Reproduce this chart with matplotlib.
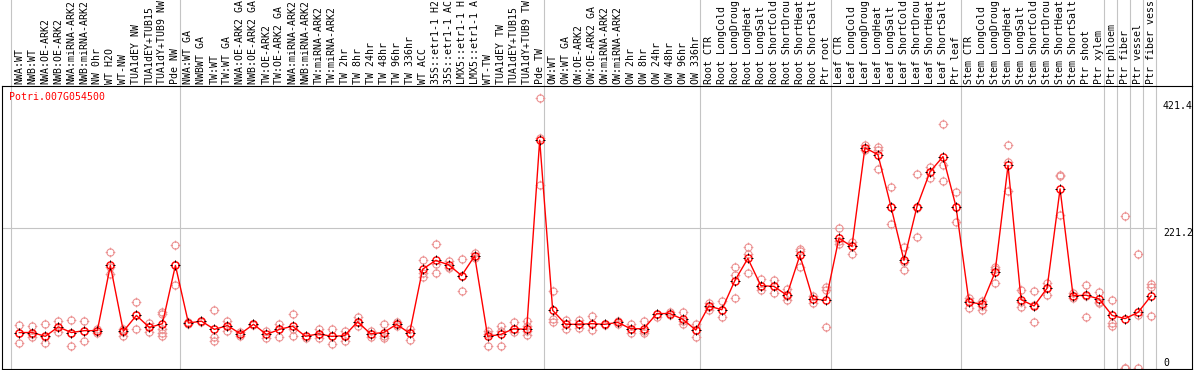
import matplotlib
matplotlib.use("Agg")
import matplotlib.pyplot as plt
from matplotlib.path import Path

GENE = "Potri.007G054500"

# labels as far as they are visible in the original (long ones run off the top)
LABELS = [
    "NWA:WT", "NWB:WT", "NWA:OE-ARK2", "NWB:OE-ARK2", "NWA:miRNA-ARK2",
    "NWB:miRNA-ARK2", "NW 0hr", "WT H2O", "WT-NW", "TUA1dEY NW",
    "TUA1dEY+TUB15", "TUA1dY+TUB9 NW", "Pde NW",
    "NWA:WT GA", "NWBWT GA", "TW:WT", "TW:WT GA", "NWA:OE-ARK2 GA",
    "NWB:OE-ARK2 GA", "TW:OE-ARK2", "TW:OE-ARK2 GA", "NWA:miRNA-ARK2",
    "NWB:miRNA-ARK2", "TW:miRNA-ARK2", "TW:miRNA-ARK2", "TW 2hr", "TW 8hr",
    "TW 24hr", "TW 48hr", "TW 96hr", "TW 336hr", "WT ACC",
    "35S::etr1-1 H2", "35S::etr1-1 AC", "LMX5::etr1-1 H",
    "LMX5::etr1-1 A", "WT-TW", "TUA1dEY TW", "TUA1dEY+TUB15",
    "TUA1dY+TUB9 TW", "Pde TW",
    "OW:WT", "OW:WT GA", "OW:OE-ARK2", "OW:OE-ARK2 GA", "OW:miRNA-ARK2",
    "OW:miRNA-ARK2", "OW 2hr", "OW 8hr", "OW 24hr", "OW 48hr", "OW 96hr",
    "OW 336hr",
    "Root CTR", "Root LongCold", "Root LongDroug", "Root LongHeat",
    "Root LongSalt", "Root ShortCold", "Root ShortDrou", "Root ShortHeat",
    "Root ShortSalt", "Ptr root",
    "Leaf CTR", "Leaf LongCold", "Leaf LongDroug", "Leaf LongHeat",
    "Leaf LongSalt", "Leaf ShortCold", "Leaf ShortDrou", "Leaf ShortHeat",
    "Leaf ShortSalt", "Ptr leaf",
    "Stem CTR", "Stem LongCold", "Stem LongDroug", "Stem LongHeat",
    "Stem LongSalt", "Stem ShortCold", "Stem ShortDrou", "Stem ShortHeat",
    "Stem ShortSalt", "Ptr shoot", "Ptr xylem",
    "Ptr phloem", "Ptr fiber", "Ptr vessel", "Ptr fiber vess",
]

MEANS = [
    56, 56, 50, 65, 56, 59, 59, 162, 58, 83, 64, 70, 162,
    71, 74, 61, 67, 54, 69, 53, 61, 66, 50, 54, 50, 51, 73, 54, 56, 69, 55,
    156, 170, 163, 146, 177, 50, 53, 62, 61, 360,
    91, 69, 69, 70, 69, 72, 62, 62, 86, 86, 77, 60,
    98, 92, 138, 173, 130, 129, 115, 178, 109, 107,
    205, 192, 348, 337, 255, 170, 255, 310, 334, 255,
    104, 101, 151, 320, 108, 98, 126, 283, 114, 115, 109,
    83, 78, 88, 114,
]

REPLICATES = [
    [68, 56, 40], [67, 54, 49], [70, 49, 40], [75, 65, 57], [76, 56, 34],
    [74, 59, 43], [62, 59, 56], [184, 160, 149], [62, 57, 50], [105, 83, 61],
    [71, 64, 57], [88, 86, 62, 56, 50], [194, 162, 131],
    [73, 70], [75, 73], [91, 49, 43], [75, 67, 59], [57, 51], [70, 68],
    [58, 48], [70, 61, 49], [86, 62, 50], [50, 48], [61, 54, 48],
    [61, 50, 38], [59, 51, 42], [80, 73, 67], [59, 54, 49], [70, 50, 48],
    [73, 69, 66], [62, 55, 45], [170, 150, 144], [196, 165, 150],
    [169, 160, 158], [172, 146, 121], [182, 177, 174], [59, 54, 35],
    [66, 58, 34], [73, 62, 57], [74, 66, 58, 52], [427, 364, 289],
    [121, 78, 72], [76, 69, 61], [76, 69, 63], [82, 70, 60], [70, 68],
    [74, 70], [69, 62, 55], [75, 58, 55], [86, 81], [89, 83], [88, 75, 69],
    [69, 60, 49],
    [103, 97, 92], [106, 92, 80], [159, 147, 110], [191, 180, 150],
    [140, 130, 124], [139, 129, 119], [125, 114, 107], [188, 185, 159],
    [114, 103], [128, 124, 65],
    [221, 200, 196], [199, 192, 180], [352, 348, 345], [349, 345, 315],
    [286, 255, 228], [191, 167, 155], [307, 253, 207], [318, 310, 300],
    [386, 320, 296], [278, 255, 231],
    [110, 106, 94], [106, 98, 92], [160, 157, 134], [353, 325, 280],
    [123, 104, 97], [121, 100, 72], [135, 126, 115], [305, 303, 242],
    [119, 113, 111], [131, 114, 81], [120, 105, 103],
    [107, 71, 67], [240, 0, 0], [180, 84, 0], [133, 128, 82],
]

# first column of each sample group (last entry closes the final group)
GROUP_STARTS = [0, 13, 41, 53, 63, 73, 84, 85, 86, 87, 88]
Y_MARKS = [0, 221.2, 421.4]

MONO = "DejaVu Sans Mono"
FS = 7.1
RED = "#ff0000"
PINK = "#ec9494"
GRID = "#c4c4c4"

W, H = 1194, 370

# circle with four short ticks, like the pixel markers of the original
ticks = Path(
    [(0, 0.75), (0, 1.35), (0, -0.75), (0, -1.35),
     (0.75, 0), (1.35, 0), (-0.75, 0), (-1.35, 0)],
    [Path.MOVETO, Path.LINETO] * 4,
)
tick_circle = Path.make_compound_path(Path.unit_circle(), ticks)

fig = plt.figure(figsize=(W / 100, H / 100), dpi=100)
ax = fig.add_axes([1.5 / W, 1 / H, 1190.5 / W, 283.5 / H])
ax.set_xlim(-1.368, 90.14)
ax.set_ylim(-1.6, 446.3)
ax.set_xticks([])
ax.set_yticks([])
for sp in ax.spines.values():
    sp.set_color("black")
    sp.set_linewidth(0.8)

top_frac = 1 + 85.5 / 283.5
xt = ax.get_xaxis_transform()
for g in GROUP_STARTS:
    ax.plot([g - 0.64, g - 0.64], [0, top_frac], transform=xt, color=GRID,
            lw=0.8, clip_on=False, zorder=1)
ax.plot([1, 1], [1, top_frac], transform=ax.transAxes, color="black",
        lw=0.8, clip_on=False)

ax.plot([ax.get_xlim()[0], GROUP_STARTS[-1] - 0.64], [Y_MARKS[1]] * 2,
        color=GRID, lw=0.8, zorder=1)

xs = list(range(len(MEANS)))
rx = [i for i, r in enumerate(REPLICATES) for _ in r]
ry = [v for r in REPLICATES for v in r]
ax.plot(rx, ry, ls="none", marker=tick_circle, ms=7.0, mfc="none",
        mec=PINK, mew=0.8, zorder=2)
ax.plot(xs, MEANS, color=RED, lw=1.0, zorder=3)
ax.plot(xs, MEANS, ls="none", marker="o", ms=5.2, mfc="none", mec=RED,
        mew=1.0, zorder=4)
ax.plot(xs, MEANS, ls="none", marker=ticks, ms=7.0, mec="black",
        mew=0.7, zorder=5)

for i, lab in enumerate(LABELS):
    ax.annotate(lab, xy=(i, 1), xycoords=xt, xytext=(0, 1.2),
                textcoords="offset points", rotation=90, ha="center",
                va="bottom", fontfamily=MONO, fontsize=FS,
                annotation_clip=False)

fig.text(9.5 / W, 1 - 91.5 / H, GENE, color=RED, fontfamily=MONO,
         fontsize=FS, ha="left", va="top")

xlab = (1163 - 1.5) / 1190.5
for v in Y_MARKS[1:]:
    ax.text(xlab, v, f"{v}", transform=ax.get_yaxis_transform(),
            fontfamily=MONO, fontsize=FS, ha="left", va="top")
ax.text(xlab, Y_MARKS[0], f"{Y_MARKS[0]}", transform=ax.get_yaxis_transform(),
        fontfamily=MONO, fontsize=FS, ha="left", va="bottom")

fig.savefig("out.png", dpi=100)
